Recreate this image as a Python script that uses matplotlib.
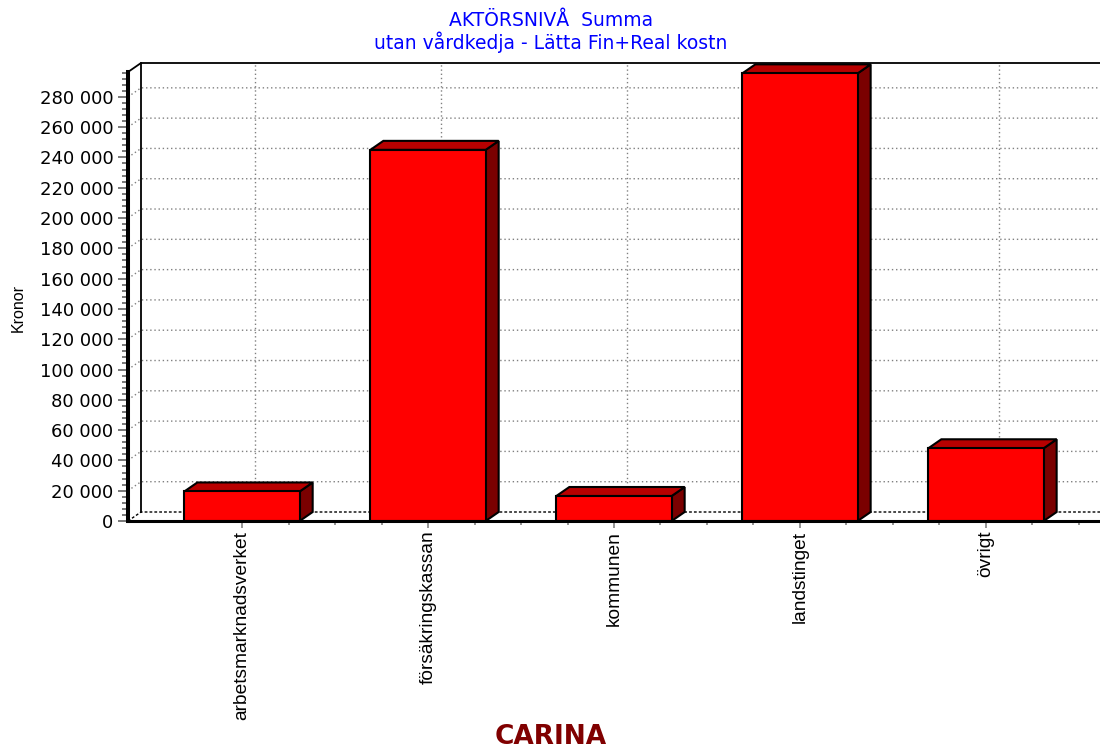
import matplotlib
matplotlib.use("Agg")
import matplotlib.pyplot as plt
from matplotlib.patches import Polygon, Rectangle
from matplotlib.lines import Line2D
from matplotlib.ticker import MultipleLocator, FixedLocator, FuncFormatter

# ---- data -------------------------------------------------------------
categories = ["arbetsmarknadsverket", "försäkringskassan", "kommunen",
              "landstinget", "övrigt"]
values = [19500, 245000, 16500, 295500, 48000]
title_lines = ["AKTÖRSNIVÅ  Summa", "utan vårdkedja - Lätta Fin+Real kostn"]
y_label = "Kronor"
footer = "CARINA"
y_major_step = 20000
y_minor_step = 4000
y_top = 296400

# ---- figure / front plane of the box -----------------------------------
W, H = 1100, 751
fig = plt.figure(figsize=(W / 100, H / 100), dpi=100)
fig.patch.set_facecolor("white")

left_px, right_px, bottom_px, top_px = 128, 1100, 230, 679
ax = fig.add_axes([left_px / W, bottom_px / H,
                   (right_px - left_px) / W, (top_px - bottom_px) / H])
x0, x1 = -0.613, len(categories) - 1 + 0.613
ax.set_xlim(x0, x1)
ax.set_ylim(0, y_top)
ax.patch.set_visible(False)

# depth of the 3D box, converted from pixels to data units
depth_x_px, depth_y_px = 13, 9
dx = depth_x_px * (x1 - x0) / (right_px - left_px)
dy = depth_y_px * y_top / (top_px - bottom_px)

grid_kw = dict(color="#808080", lw=1.0, ls=(0, (1, 2)), clip_on=False, zorder=1)

# horizontal grid lines across the side wall and the back wall
major_vals = list(range(y_major_step, int(y_top) + 1, y_major_step))
for v in major_vals:
    ax.add_line(Line2D([x0, x0 + dx, x1 + dx], [v, v + dy, v + dy], **grid_kw))

# vertical grid lines on the back wall at category centres
for i in range(len(categories)):
    ax.add_line(Line2D([i + dx, i + dx], [dy, y_top + dy], **grid_kw))

# floor back edge
ax.add_line(Line2D([x0, x0 + dx, x1 + dx], [0, dy, dy], color="black",
                   lw=1.0, ls=(0, (2, 1.5)), clip_on=False, zorder=1.5))
# back wall outline
ax.add_line(Line2D([x0 + dx, x0 + dx], [dy, y_top + dy], color="black",
                   lw=1.3, clip_on=False, zorder=1.5))
ax.add_line(Line2D([x0, x0 + dx, x1 + dx], [y_top, y_top + dy, y_top + dy],
                   color="black", lw=1.3, clip_on=False, zorder=1.5))

# ---- bars ---------------------------------------------------------------
bar_w = 0.62
front_c, top_c, side_c = "#ff0000", "#b80000", "#7a0000"
edge_kw = dict(edgecolor="black", lw=1.5, joinstyle="miter", clip_on=False)
for i, v in enumerate(values):
    xl, xr = i - bar_w / 2, i + bar_w / 2
    ax.add_patch(Polygon([(xr, 0), (xr + dx, dy), (xr + dx, v + dy), (xr, v)],
                         facecolor=side_c, zorder=3, **edge_kw))
    ax.add_patch(Polygon([(xl, v), (xr, v), (xr + dx, v + dy), (xl + dx, v + dy)],
                         facecolor=top_c, zorder=3, **edge_kw))
    ax.add_patch(Rectangle((xl, 0), bar_w, v, facecolor=front_c, zorder=4, **edge_kw))

# ---- axes lines and ticks ------------------------------------------------
for s in ("top", "right"):
    ax.spines[s].set_visible(False)
ax.spines["left"].set_linewidth(2.9)
ax.spines["bottom"].set_linewidth(2.2)
ax.spines["left"].set_zorder(6)
ax.spines["bottom"].set_zorder(6)

ax.yaxis.set_major_locator(MultipleLocator(y_major_step))
ax.yaxis.set_minor_locator(MultipleLocator(y_minor_step))
ax.yaxis.set_major_formatter(FuncFormatter(lambda v, p: f"{int(round(v)):,}".replace(",", " ")))
ax.tick_params(axis="y", which="major", length=7.5, width=1.1, color="#555555",
               pad=3, labelsize=13)
ax.tick_params(axis="y", which="minor", length=4.5, width=1.1, color="#555555")
for lab in ax.get_yticklabels():
    lab.set_fontfamily("DejaVu Sans")

ax.set_xticks(range(len(categories)))
ax.set_xticklabels(categories, rotation=90, ha="center", va="top",
                   fontfamily="Liberation Sans", fontsize=13.8)
ax.xaxis.set_minor_locator(FixedLocator([k / 4 for k in range(0, 19) if k % 4]))
ax.tick_params(axis="x", which="major", length=5, width=1.1, color="#777777", pad=2)
ax.tick_params(axis="x", which="minor", length=3, width=1.1, color="#777777")

# ---- texts ----------------------------------------------------------------
fig.text(551 / W, 1 - 26 / H, title_lines[0], ha="center", va="baseline",
         color="#0000ff", fontsize=13.5, fontfamily="DejaVu Sans")
fig.text(551 / W, 1 - 49 / H, title_lines[1], ha="center", va="baseline",
         color="#0000ff", fontsize=13.5, fontfamily="DejaVu Sans")
fig.text(18 / W, 1 - 308 / H, y_label, rotation=90, ha="center", va="center",
         fontsize=11.5, fontfamily="Liberation Sans")
fig.text(551 / W, 1 - 744 / H, footer, ha="center", va="baseline",
         color="#800000", fontsize=19, fontweight="bold", fontfamily="DejaVu Sans")

fig.savefig("out.png", dpi=100)
